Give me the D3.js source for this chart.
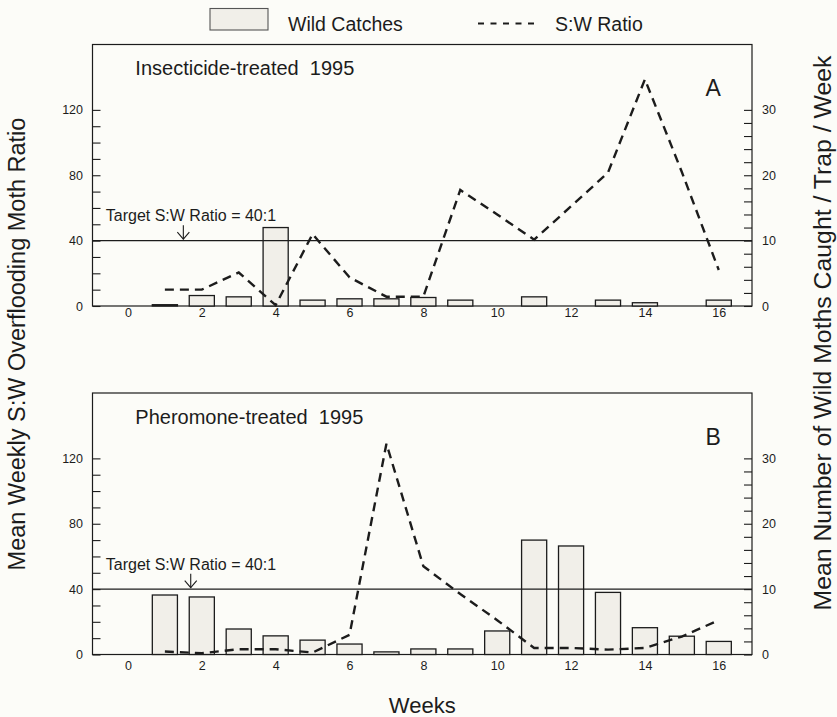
<!DOCTYPE html>
<html>
<head>
<meta charset="utf-8">
<script src="https://cdn.jsdelivr.net/npm/d3@7"></script>
<style>
  html, body { margin: 0; padding: 0; background: #fcfcf8; }
  svg { display: block; font-family: "Liberation Sans", Arial, Helvetica, sans-serif; }
</style>
</head>
<body>
<svg id="chart" width="837" height="717"></svg>
<script>
// ---- data ----
const weeks = [1, 2, 3, 4, 5, 6, 7, 8, 9, 10, 11, 12, 13, 14, 15, 16];
const catchesA = [0.2, 1.6, 1.4, 12.0, 0.9, 1.1, 1.1, 1.3, 0.9, null, 1.4, null, 0.9, 0.5, null, 0.9];
const ratioA = [10, 10, 20.5, 0.5, 44, 17.5, 5.7, 5.7, 71, 56, 40.6, 61, 81.6, 138.7, 82, 22];
const catchesB = [9.1, 8.8, 3.9, 2.85, 2.2, 1.6, 0.4, 0.85, 0.85, 3.6, 17.5, 16.6, 9.5, 4.1, 2.8, 2.0];
const ratioB = [1.8, 0.8, 3.2, 3.2, 1.2, 12, 129, 54, 37, 21, 4, 4, 3, 4, 11, 21];
const xTickLabels = [0, 2, 4, 6, 8, 10, 12, 14, 16];
const leftTicks = [0, 10, 20, 30, 40, 50, 60, 70, 80, 90, 100, 110, 120];
const leftLabels = [0, 40, 80, 120];
const rightTicks = [0, 2, 4, 6, 8, 10, 12, 14, 16, 18, 20, 22, 24, 26, 28, 30];
const rightLabels = [0, 10, 20, 30];
const targetRatio = 40;
const panelTitles = ["Insecticide-treated  1995", "Pheromone-treated  1995"];
const panelLetters = ["A", "B"];
const arrowWeek = [1.5, 1.7];

const svg = d3.select("#chart");
const ink = "#1c1c1c";

const left = 92.5, right = 752;
const x = d3.scaleLinear().domain([-0.96, 16.9]).range([left, right]);
const barW = x(0.68) - x(0);

const panels = [
  { top: 44.5, bottom: 306, catches: catchesA, ratio: ratioA, xpad: 2.5 },
  { top: 393, bottom: 654.5, catches: catchesB, ratio: ratioB, xpad: 6.5 }
];

panels.forEach((p, i) => {
  const yL = d3.scaleLinear().domain([0, 160]).range([p.bottom, p.top]);
  const yR = d3.scaleLinear().domain([0, 40]).range([p.bottom, p.top]);
  const g = svg.append("g");

  // frame
  g.append("rect")
    .attr("x", left).attr("y", p.top)
    .attr("width", right - left).attr("height", p.bottom - p.top)
    .attr("fill", "none").attr("stroke", ink).attr("stroke-width", 1.2);

  // bars (wild catches, right axis)
  const barData = weeks.map((w, k) => ({ w, v: p.catches[k] })).filter(d => d.v != null);
  g.selectAll("rect.bar").data(barData).enter().append("rect")
    .attr("class", "bar")
    .attr("x", d => x(d.w) - barW / 2)
    .attr("y", d => yR(d.v))
    .attr("width", barW)
    .attr("height", d => yR(0) - yR(d.v))
    .attr("fill", "#f1efe9")
    .attr("stroke", ink).attr("stroke-width", 1.3);

  // target line
  g.append("line")
    .attr("x1", left).attr("x2", right)
    .attr("y1", yL(targetRatio)).attr("y2", yL(targetRatio))
    .attr("stroke", ink).attr("stroke-width", 1.4);

  // ratio line (left axis)
  const line = d3.line().x((d, k) => x(weeks[k])).y(d => yL(d));
  g.append("path")
    .datum(p.ratio)
    .attr("d", line)
    .attr("fill", "none")
    .attr("stroke", ink)
    .attr("stroke-width", 2.4)
    .attr("stroke-dasharray", "9,6");

  // left axis (ticks inward)
  const axL = d3.axisLeft(yL).tickValues(leftTicks).tickSize(-8).tickPadding(9.5)
    .tickFormat(d => leftLabels.includes(d) ? d : "");
  const gL = g.append("g").attr("transform", `translate(${left},0)`).call(axL);
  gL.select(".domain").remove();
  gL.selectAll("line").attr("stroke", ink).attr("stroke-width", 1.1);
  gL.selectAll("text").attr("font-size", 12.5).attr("fill", ink)
    .attr("font-family", "Liberation Sans, Arial, sans-serif");

  // right axis (ticks inward)
  const axR = d3.axisRight(yR).tickValues(rightTicks).tickSize(-8).tickPadding(10)
    .tickFormat(d => rightLabels.includes(d) ? d : "");
  const gR = g.append("g").attr("transform", `translate(${right},0)`).call(axR);
  gR.select(".domain").remove();
  gR.selectAll("line").attr("stroke", ink).attr("stroke-width", 1.1);
  gR.selectAll("text").attr("font-size", 12.5).attr("fill", ink)
    .attr("font-family", "Liberation Sans, Arial, sans-serif");

  // bottom axis (labels only)
  const axB = d3.axisBottom(x).tickValues(xTickLabels).tickSize(0).tickPadding(p.xpad);
  const gB = g.append("g").attr("transform", `translate(0,${p.bottom})`).call(axB);
  gB.select(".domain").remove();
  gB.selectAll("text").attr("font-size", 12.5).attr("fill", ink)
    .attr("font-family", "Liberation Sans, Arial, sans-serif");

  // panel title
  g.append("text")
    .attr("x", x(0.2)).attr("y", p.top + 30.5)
    .attr("font-size", 20).attr("fill", ink)
    .style("white-space", "pre")
    .text(panelTitles[i]);

  // panel letter
  g.append("text")
    .attr("x", x(15.64)).attr("y", p.top + 51.5)
    .attr("font-size", 23).attr("fill", ink)
    .text(panelLetters[i]);

  // target annotation
  g.append("text")
    .attr("x", x(-0.6)).attr("y", yL(targetRatio) - 19.5)
    .attr("font-size", 16).attr("fill", ink)
    .text("Target S:W Ratio = 40:1");
  const ax = x(arrowWeek[i]);
  const aTop = yL(targetRatio) - 15.5, aTip = yL(targetRatio) - 1.5;
  g.append("line").attr("x1", ax).attr("x2", ax).attr("y1", aTop).attr("y2", aTip)
    .attr("stroke", ink).attr("stroke-width", 1.1);
  g.append("path")
    .attr("d", `M${ax - 6},${aTip - 7}L${ax},${aTip}L${ax + 6},${aTip - 7}`)
    .attr("fill", "none").attr("stroke", ink).attr("stroke-width", 1.1);
});

// legend
svg.append("rect").attr("x", 210).attr("y", 8.5).attr("width", 58).attr("height", 21.5)
  .attr("fill", "#f1efe9").attr("stroke", "#555").attr("stroke-width", 1.1);
svg.append("text").attr("x", 288).attr("y", 30.5).attr("font-size", 19.5).attr("fill", ink)
  .text("Wild Catches");
svg.append("line").attr("x1", 478).attr("x2", 534).attr("y1", 23.5).attr("y2", 23.5)
  .attr("stroke", ink).attr("stroke-width", 2).attr("stroke-dasharray", "6,6.5");
svg.append("text").attr("x", 555).attr("y", 30.5).attr("font-size", 19.5).attr("fill", ink)
  .text("S:W Ratio");

// axis titles
svg.append("text")
  .attr("transform", "translate(25,344) rotate(-90)")
  .attr("text-anchor", "middle").attr("font-size", 23.5).attr("fill", ink)
  .text("Mean Weekly S:W Overflooding Moth Ratio");
svg.append("text")
  .attr("transform", "translate(831,333) rotate(-90)")
  .attr("text-anchor", "middle").attr("font-size", 24.8).attr("fill", ink)
  .text("Mean Number of Wild Moths Caught / Trap / Week");
svg.append("text")
  .attr("x", (left + right) / 2).attr("y", 713)
  .attr("text-anchor", "middle").attr("font-size", 22).attr("fill", ink)
  .text("Weeks");
</script>
</body>
</html>
